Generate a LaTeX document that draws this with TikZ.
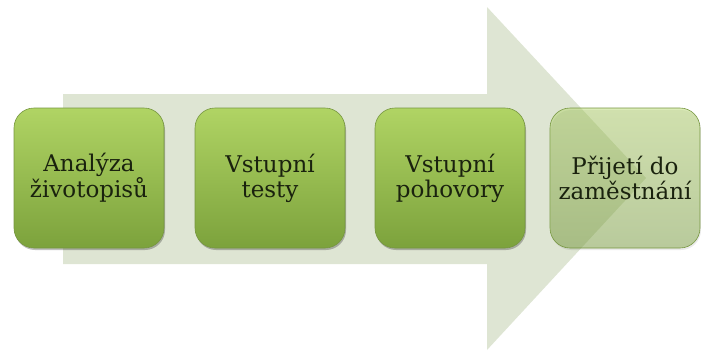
\documentclass[tikz,border=0pt]{standalone}
\usepackage{fontspec}
\setmainfont{DejaVu Serif}
\usetikzlibrary{shadows}

\definecolor{arrowfill}{RGB}{222,229,211}
\definecolor{cardtop}{RGB}{176,212,100}
\definecolor{cardbottom}{RGB}{124,162,60}
\definecolor{cardedge}{RGB}{118,150,64}
\definecolor{cardtext}{RGB}{26,34,14}

\tikzset{
    card/.style={rounded corners=20pt, minimum width=150pt, minimum height=140pt,
        align=center, top color=cardtop, bottom color=cardbottom,
        draw=cardedge, line width=0.6pt, text=cardtext,
        font=\fontsize{23}{25}\selectfont,
        drop shadow={shadow xshift=1pt, shadow yshift=-2pt, opacity=#1, fill=black}},
    card/.default=0.25
}

\begin{document}
\begin{tikzpicture}[x=1pt,y=-1pt]
        \useasboundingbox (0,0) rectangle (701,351);
        \fill[arrowfill] (63,94) -- (487,94) -- (487,7) -- (646,178) -- (487,350) -- (487,264) -- (63,264) -- cycle;
        \node[card] (A) at (89,178) {Analýza\\životopisů};
        \node[card] (B) at (270,178) {Vstupní\\testy};
        \node[card] (C) at (450,178) {Vstupní\\pohovory};
        \node[card=0.08, fill opacity=0.45, text opacity=1] (D) at (625,178) {Přijetí do\\zaměstnání};
    \end{tikzpicture}
\end{document}
